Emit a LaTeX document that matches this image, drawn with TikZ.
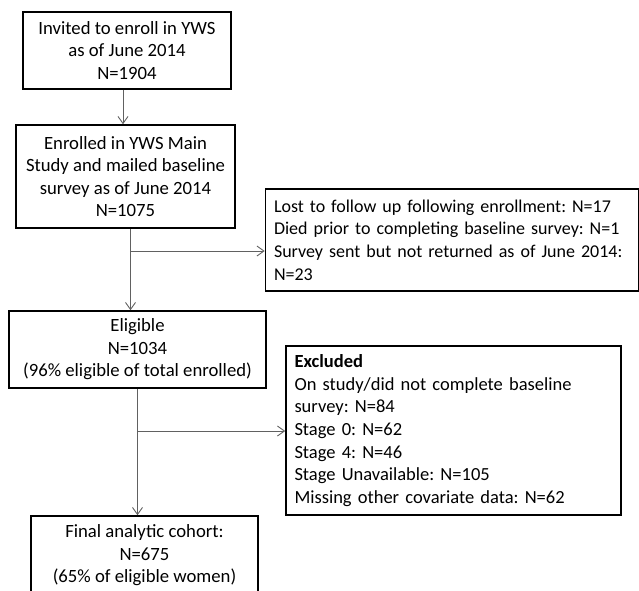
\documentclass[tikz,border=0pt]{standalone}
\usepackage{fontspec}
\setmainfont{Carlito}
\frenchspacing
\usetikzlibrary{arrows.meta}
\begin{document}
\begin{tikzpicture}[x=1pt,y=-1pt,
  box/.style={draw=black, line width=1.6pt, inner sep=0pt, font=\fontsize{18.7}{22.6}\selectfont},
  cbox/.style={box, align=center},
  lbox/.style={box, align=left, inner xsep=8.5pt},
  conn/.style={draw=black!62, line width=0.9pt},
  arr/.style={conn, -{Straight Barb[length=7pt,width=10pt]}}]
\useasboundingbox (0,0) rectangle (639,590);
\clip (0,0) rectangle (639,590);
\node[cbox, minimum width=208pt, minimum height=77pt] (b1) at (127,50.5)
  {Invited to enroll in YWS\\as of June 2014\\N=1904};
\node[cbox, minimum width=219pt, minimum height=103pt] (b2) at (125.5,176.5)
  {Enrolled in YWS Main\\Study and mailed baseline\\survey as of June 2014\\N=1075};
\node[lbox, font=\fontsize{18}{22.6}\selectfont, text width=356pt, minimum height=102pt] (side) at (452,240)
  {\mbox{Lost to follow up following enrollment: N=17}\\\mbox{Died prior to completing baseline survey: N=1}\\\mbox{Survey sent but not returned as of June 2014:}\\N=23};
\node[cbox, minimum width=257pt, minimum height=77pt] (elig) at (137.5,349.5)
  {Eligible\\N=1034\\(96\% eligible of total enrolled)};
\node[lbox, font=\fontsize{18.5}{22.6}\selectfont, text width=318pt, minimum height=169pt] (excl) at (453.5,430.5)
  {\textbf{Excluded}\\\mbox{On study/did not complete baseline}\\survey: N=84\\Stage 0: N=62\\Stage 4: N=46\\Stage Unavailable: N=105\\\mbox{Missing other covariate data: N=62}};
\node[cbox, minimum width=227pt, minimum height=79pt] (fin) at (144.5,555.5)
  {Final analytic cohort:\\N=675\\(65\% of eligible women)};
\coordinate (c1) at (123,0);
\coordinate (c2) at (130.5,251);
\coordinate (c3) at (137.5,431);
\draw[arr] (b1.south -| c1) -- (b2.north -| c1);
\draw[arr] (b2.south -| c2) -- (elig.north -| c2);
\draw[arr] (c2) -- (c2 -| side.west);
\draw[arr] (elig.south -| c3) -- (fin.north -| c3);
\draw[arr] (c3) -- (c3 -| excl.west);
\end{tikzpicture}
\end{document}
